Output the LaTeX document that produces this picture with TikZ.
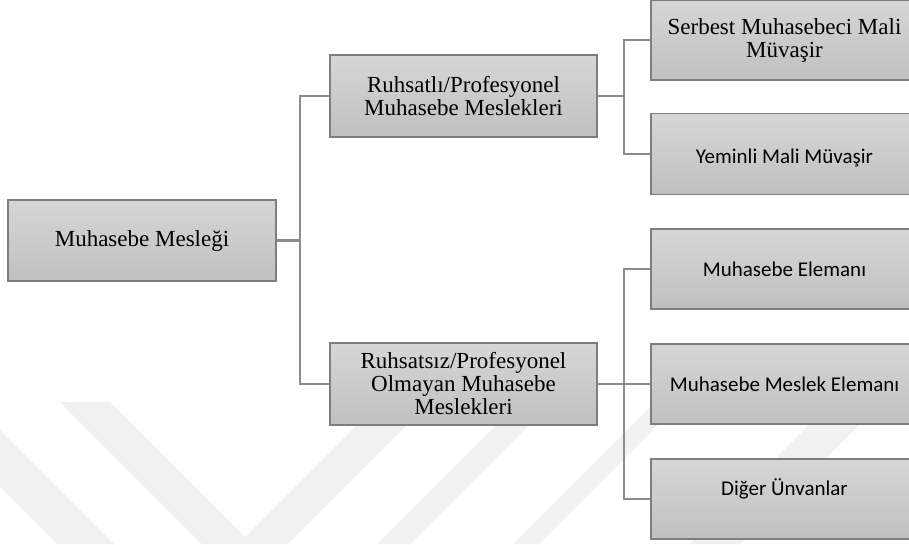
\documentclass[tikz,border=0pt]{standalone}
\usepackage{fontspec}
\setmainfont{Liberation Serif}
\newfontfamily\calfont{Carlito}
\begin{document}
\begin{tikzpicture}[x=1pt,y=-1pt,
  box/.style={draw=boxline, line width=1.3pt, top color=boxtop, bottom color=boxbot,
    minimum width=267pt, minimum height=82pt, inner sep=0pt, align=center, text=black},
  serif/.style={font=\fontsize{23}{23}\selectfont},
  sans/.style={font=\calfont\fontsize{21}{23}\selectfont},
  conn/.style={draw=connline, line width=2.5pt, line join=miter},
  wm/.style={fill=wmgrey, draw=none}]
\definecolor{boxline}{HTML}{7E7E7E}
\definecolor{boxtop}{HTML}{D6D6D6}
\definecolor{boxbot}{HTML}{C0C0C0}
\definecolor{connline}{HTML}{8C8C8C}
\definecolor{wmgrey}{HTML}{F1F1F1}
\useasboundingbox (0,0) rectangle (909,544);
\begin{scope}
\clip (0,0) rectangle (909,544);
% watermark
\fill[wm] (0,430) -- (0,487) -- (57,544) -- (114,544) -- cycle;
\fill[wm] (60,402) -- (110,402) -- (245,537) -- (380,402) -- (430,402) -- (288,544) -- (202,544) -- cycle;
\fill[wm] (377,544) -- (410,544) -- (552,402) -- (519,402) -- cycle;
\fill[wm] (513,544) -- (539,544) -- (681,402) -- (655,402) -- cycle;
\fill[wm] (690,544) -- (740,544) -- (882,402) -- (832,402) -- cycle;
% boxes
\node[box, serif, minimum width=268pt, minimum height=81pt] (root) at (142,240.5) {Muhasebe Mesleği};
\node[box, serif] (b1) at (463.5,96) {Ruhsatlı/Profesyonel\\Muhasebe Meslekleri};
\node[box, serif] (b2) at (463.5,384) {Ruhsatsız/Profesyonel\\Olmayan Muhasebe\\Meslekleri};
\node[box, serif, minimum height=80pt] (c1) at (784.5,40) {Serbest Muhasebeci Mali\\Müvaşir};
\node[box, sans, minimum height=81pt, text height=23pt, text depth=5pt] (c2) at (784.5,154) {Yeminli Mali Müvaşir};
\node[box, sans, minimum height=80pt] (d1) at (784.5,269) {Muhasebe Elemanı};
\node[box, sans, minimum height=80pt] (d2) at (784.5,384) {Muhasebe Meslek Elemanı};
\node[box, sans, minimum height=80pt] (d3) at (784.5,499) {\raisebox{24pt}{Diğer Ünvanlar}};
% connectors
\coordinate (j1) at (300,240.5);
\coordinate (j2) at (624,96);
\coordinate (j3) at (624,384);
\draw[conn] (root.east) -- (j1);
\draw[conn] (b1.west) -| (j1) |- (b2.west);
\draw[conn] (b1.east) -- (j2);
\draw[conn] (c1.west) -| (j2) |- (c2.west);
\draw[conn] (b2.east) -- (j3) -- (d2.west);
\draw[conn] (d1.west) -| (j3) |- (d3.west);
\end{scope}
\end{tikzpicture}
\end{document}
